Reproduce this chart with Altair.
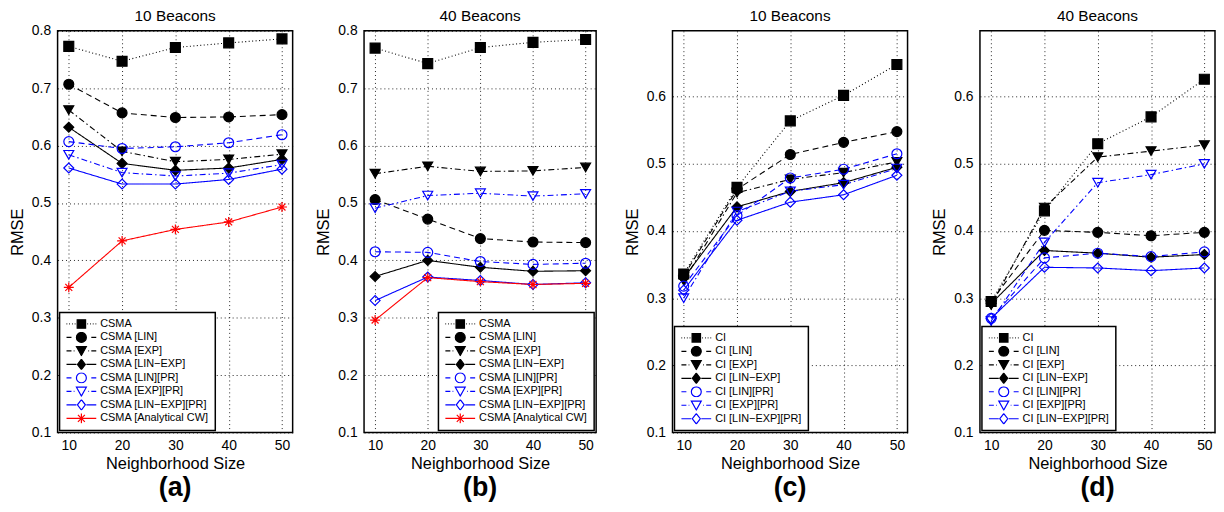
import altair as alt
import pandas as pd

x_sizes = [10, 20, 30, 40, 50]

# ---- panel (a): CSMA, 10 beacons
a_base = [0.773, 0.747, 0.771, 0.779, 0.786]
a_lin = [0.707, 0.657, 0.649, 0.650, 0.654]
a_exp = [0.662, 0.590, 0.572, 0.576, 0.585]
a_linexp = [0.632, 0.569, 0.557, 0.561, 0.576]
a_lin_pr = [0.607, 0.595, 0.598, 0.605, 0.619]
a_exp_pr = [0.584, 0.553, 0.547, 0.552, 0.567]
a_linexp_pr = [0.561, 0.533, 0.533, 0.541, 0.559]
a_analytic = [0.353, 0.434, 0.454, 0.467, 0.493]

# ---- panel (b): CSMA, 40 beacons
b_base = [0.770, 0.743, 0.771, 0.780, 0.785]
b_lin = [0.506, 0.472, 0.438, 0.432, 0.431]
b_exp = [0.551, 0.564, 0.555, 0.556, 0.562]
b_linexp = [0.372, 0.400, 0.388, 0.381, 0.382]
b_lin_pr = [0.415, 0.414, 0.398, 0.393, 0.395]
b_exp_pr = [0.491, 0.513, 0.517, 0.512, 0.516]
b_linexp_pr = [0.330, 0.371, 0.365, 0.358, 0.361]
b_analytic = [0.296, 0.370, 0.363, 0.358, 0.360]

# ---- panel (c): CI, 10 beacons
c_base = [0.336, 0.465, 0.564, 0.602, 0.648]
c_lin = [0.333, 0.462, 0.514, 0.532, 0.548]
c_exp = [0.326, 0.457, 0.477, 0.487, 0.503]
c_linexp = [0.330, 0.436, 0.459, 0.472, 0.495]
c_lin_pr = [0.318, 0.423, 0.479, 0.492, 0.515]
c_exp_pr = [0.300, 0.429, 0.459, 0.469, 0.493]
c_linexp_pr = [0.312, 0.416, 0.443, 0.454, 0.483]

# ---- panel (d): CI, 40 beacons
d_base = [0.295, 0.430, 0.530, 0.570, 0.626]
d_lin = [0.295, 0.401, 0.398, 0.393, 0.398]
d_exp = [0.290, 0.435, 0.510, 0.519, 0.528]
d_linexp = [0.292, 0.371, 0.367, 0.361, 0.365]
d_lin_pr = [0.270, 0.360, 0.367, 0.362, 0.369]
d_exp_pr = [0.266, 0.383, 0.472, 0.484, 0.500]
d_linexp_pr = [0.270, 0.346, 0.345, 0.341, 0.345]

csma_names = ["CSMA", "CSMA [LIN]", "CSMA [EXP]", "CSMA [LIN\u2212EXP]",
              "CSMA [LIN][PR]", "CSMA [EXP][PR]", "CSMA [LIN\u2212EXP][PR]",
              "CSMA [Analytical CW]"]
ci_names = ["CI", "CI [LIN]", "CI [EXP]", "CI [LIN\u2212EXP]",
            "CI [LIN][PR]", "CI [EXP][PR]", "CI [LIN\u2212EXP][PR]"]

# ---- styles (per series position)
BLACK, BLUE, RED = "#000000", "#0000ff", "#ff0000"
colors = [BLACK, BLACK, BLACK, BLACK, BLUE, BLUE, BLUE, RED]
dashes = [[1, 2.5], [6, 4], [6, 3, 1.5, 3], [1, 0], [6, 4], [6, 3, 1.5, 3], [1, 0], [1, 0]]
ASTER = "M-1,0L1,0M0,-1L0,1M-0.7,-0.7L0.7,0.7M-0.7,0.7L0.7,-0.7"
shapes = ["square", "circle", "triangle-down", "diamond", "circle", "triangle-down", "diamond", ASTER]
fills = [BLACK, BLACK, BLACK, BLACK, "transparent", "transparent", "transparent", RED]


def seg(a, b):
    return f"M{a},0L{b},0"


line_dotted = "".join(seg(p, p + 0.15) for p in [-1, -0.45, 0.1, 0.65, 3.2, 3.75, 4.3, 4.85])
line_dashed = seg(-1, 0) + seg(4, 5)
line_dashdot = seg(-1, 0) + seg(0.45, 0.6) + seg(3.4, 3.55) + seg(4, 5)
line_solid = seg(-1, 1) + seg(3, 5)
m_square = "M1.15,-0.85L2.85,-0.85L2.85,0.85L1.15,0.85Z"
m_circle = "M3,0A1,1,0,1,1,1,0A1,1,0,1,1,3,0Z"
m_tri = "M1,-0.85L3,-0.85L2,0.95Z"
m_diam = "M2,-1.05L2.8,0L2,1.05L1.2,0Z"
m_aster = "M1,0L3,0M2,-1L2,1M1.3,-0.7L2.7,0.7M1.3,0.7L2.7,-0.7"
legend_paths = [
    line_dotted + m_square,
    line_dashed + m_circle,
    line_dashdot + m_tri,
    line_solid + m_diam,
    line_dashed + m_circle,
    line_dashdot + m_tri,
    line_solid + m_diam,
    line_solid + m_aster,
]

FONT = "Liberation Sans"
H = 405


def build_df(names, series):
    rows = []
    for name, vals in zip(names, series):
        for x, v in zip(x_sizes, vals):
            rows.append({"n": x, "rmse": v, "series": name})
    return pd.DataFrame(rows)


def panel(names, series, ymax, yticks, title, letter, orient, width):
    k = len(names)
    df = build_df(names, series)
    xenc = alt.X("n:Q", scale=alt.Scale(domain=[7.9, 52], nice=False, zero=False),
                 axis=alt.Axis(values=x_sizes, title="Neighborhood Size", labelPadding=6, titlePadding=3))
    yenc = alt.Y("rmse:Q", scale=alt.Scale(domain=[0.1, ymax], nice=False, zero=False),
                 axis=alt.Axis(values=yticks, format=".1f", title="RMSE", labelPadding=7, titlePadding=6))
    sc = lambda rng: alt.Scale(domain=names, range=rng[:k])

    lines = alt.Chart(df).mark_line(strokeWidth=1.1).encode(
        x=xenc, y=yenc,
        color=alt.Color("series:N", scale=sc(colors), legend=None),
        strokeDash=alt.StrokeDash("series:N", scale=sc(dashes), legend=None),
    )
    points = alt.Chart(df).mark_point(opacity=1, strokeWidth=1.2, size=100).encode(
        x=xenc, y=yenc,
        shape=alt.Shape("series:N", scale=sc(shapes), legend=None),
        stroke=alt.Stroke("series:N", scale=sc(colors), legend=None),
        fill=alt.Fill("series:N", scale=sc(fills), legend=None),
    )
    leg = alt.Legend(title=None, orient=orient, offset=2, fillColor="white", strokeColor="black",
                     padding=6, symbolSize=100, symbolStrokeWidth=1.2, clipHeight=11,
                     labelFont=FONT, labelFontSize=11, labelColor="black", labelOffset=23,
                     rowPadding=1.6, symbolLimit=0, labelLimit=400, cornerRadius=0,
                     symbolOpacity=1)
    legend_layer = alt.Chart(df).transform_filter(alt.datum.rmse < 0).mark_point(
        filled=True, opacity=1).encode(
        x=xenc, y=yenc,
        shape=alt.Shape("series:N", scale=sc(legend_paths), legend=leg),
        stroke=alt.Stroke("series:N", scale=sc(colors), legend=leg),
        fill=alt.Fill("series:N", scale=sc(fills), legend=leg),
    )
    ttl = alt.Chart(pd.DataFrame({"t": [title]})).mark_text(
        font=FONT, fontSize=15.5, baseline="middle", align="center", color="black"
    ).encode(x=alt.value(width / 2), y=alt.value(-15), text="t:N")
    lab = alt.Chart(pd.DataFrame({"lbl": [letter]})).mark_text(
        font=FONT, fontSize=27, fontWeight="bold", baseline="middle", align="center", color="black"
    ).encode(x=alt.value(width / 2), y=alt.value(H + 56), text="lbl:N")

    return alt.layer(lines, points, legend_layer, ttl, lab).resolve_scale(
        shape="independent", stroke="independent", fill="independent"
    ).resolve_legend(shape="independent", stroke="independent", fill="independent").properties(
        width=width, height=H,
    )


ab_ticks = [0.1, 0.2, 0.3, 0.4, 0.5, 0.6, 0.7, 0.8]
cd_ticks = [0.1, 0.2, 0.3, 0.4, 0.5, 0.6]

pa = panel(csma_names, [a_base, a_lin, a_exp, a_linexp, a_lin_pr, a_exp_pr, a_linexp_pr, a_analytic],
           0.8, ab_ticks, "10 Beacons", "(a)", "bottom-left", 237)
pb = panel(csma_names, [b_base, b_lin, b_exp, b_linexp, b_lin_pr, b_exp_pr, b_linexp_pr, b_analytic],
           0.8, ab_ticks, "40 Beacons", "(b)", "bottom-right", 234)
pc = panel(ci_names, [c_base, c_lin, c_exp, c_linexp, c_lin_pr, c_exp_pr, c_linexp_pr],
           0.698, cd_ticks, "10 Beacons", "(c)", "bottom-left", 237)
pd_ = panel(ci_names, [d_base, d_lin, d_exp, d_linexp, d_lin_pr, d_exp_pr, d_linexp_pr],
            0.698, cd_ticks, "40 Beacons", "(d)", "bottom-left", 237)

chart = alt.hconcat(
    alt.hconcat(pa, pb, spacing=21),
    alt.hconcat(pc, pd_, spacing=22),
    spacing=26,
).properties(padding={"left": 0, "top": -2, "right": 0, "bottom": 0}, background="white").configure_view(
    stroke="black", strokeWidth=1.5
).configure_axis(
    labelFont=FONT, labelFontSize=14, labelColor="black",
    titleFont=FONT, titleFontSize=16.5, titleFontWeight="normal", titleColor="black",
    ticks=False, domain=False, grid=True, gridColor="black", gridDash=[1, 3],
    gridWidth=1, gridOpacity=0.85,
).configure_legend(strokeWidth=1.5)

chart.save("out.html", embed_options={"renderer": "svg", "actions": False})
